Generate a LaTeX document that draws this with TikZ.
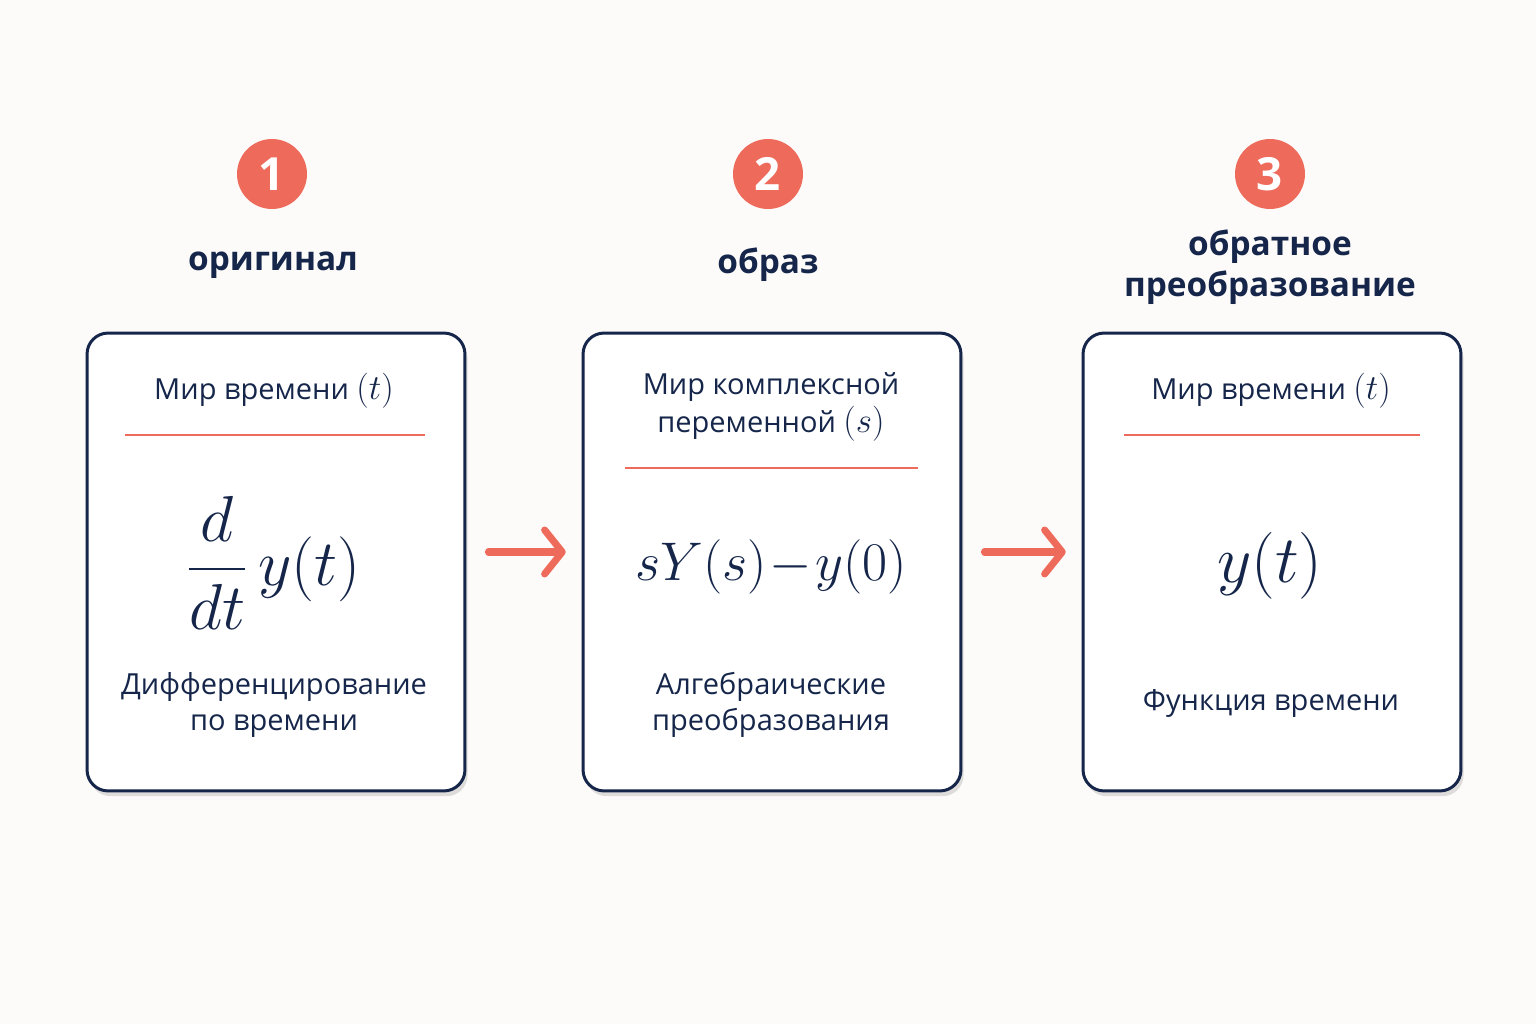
\documentclass[tikz,border=0pt]{standalone}
\usepackage{fix-cm}
\usepackage{amsmath}
\usepackage{fontspec}
\setmainfont{Open Sans}
\usetikzlibrary{arrows.meta,positioning,shadows}
\definecolor{navy}{HTML}{15264A}
\definecolor{coral}{HTML}{EE6A5A}
\definecolor{paper}{HTML}{FCFBF9}
\newcommand{\bigvar}[1]{{\fontsize{20}{22}\selectfont$(#1)$}}

\begin{document}
\begin{tikzpicture}[x=0.02cm,y=-0.02cm,
    world/.style={draw=navy,line width=1.7pt,rounded corners=12pt,fill=white,
        minimum width=7.56cm,minimum height=9.16cm,
        drop shadow={shadow xshift=1.5pt,shadow yshift=-3pt,opacity=.12,fill=black}},
    badge/.style={circle,fill=coral,text=white,minimum size=1.4cm,inner sep=0pt,
        font=\fontsize{26}{30}\selectfont\bfseries},
    stage/.style={text=navy,align=center,font=\fontsize{19}{23}\selectfont\bfseries},
    head/.style={text=navy,align=center,font=\fontsize{16.5}{22}\selectfont},
    note/.style={text=navy,align=center,font=\fontsize{16.5}{20.4}\selectfont},
    formula/.style={text=navy,font=\fontsize{31}{36}\selectfont},
    rule/.style={draw=coral,line width=0.8pt},
    flow/.style={draw=coral,line width=4pt,line cap=round,
        -{Straight Barb[length=10pt,width=25pt,round]},
        shorten <=12.5pt,shorten >=9pt}]
  % page
  \fill[paper] (0,0) rectangle (1536,1024);
  \useasboundingbox (0,0) rectangle (1536,1024);

  % boxes
  \node[world] (b1) at (276,562) {};
  \node[world] (b2) at (772,562) {};
  \node[world] (b3) at (1272,562) {};

  % numbers and stage names
  \node[badge] (n1) at (272,174) {1};
  \node[badge] (n2) at (768,174) {2};
  \node[badge] (n3) at (1270,174) {3};
  \node[stage] (s1) at (273,265) {оригинал};
  \node[stage] (s2) at (768,265) {образ};
  \node[stage] (s3) at (1270,267) {обратное\\преобразование};

  % box contents
  \node[head] (h1) at (274,391) {Мир времени \bigvar{t}};
  \node[head] (h2) at (771,407) {Мир комплексной\\переменной \bigvar{s}};
  \node[head] (h3) at (1271,391) {Мир времени \bigvar{t}};
  \draw[rule] (125,435) -- (425,435);
  \draw[rule] (625,468) -- (918,468);
  \draw[rule] (1124,435) -- (1420,435);

  \node[formula,font=\fontsize{37}{42}\selectfont] (f1) at (274,563) {$\displaystyle\frac{d}{dt}\,y(t)$};
  \node[formula] (f2) at (771,567) {$sY(s)\!-\!y(0)$};
  \node[formula,font=\fontsize{38}{42}\selectfont] (f3) at (1270,566) {$y(t)$};

  \node[note] (d1) at (274,705) {Дифференцирование\\по времени};
  \node[note] (d2) at (771,705) {Алгебраические\\преобразования};
  \node[note] (d3) at (1271,703) {Функция времени};

  % arrows
  \draw[flow] ([yshift=5.7pt]b1.east) -- ([yshift=5.7pt]b2.west);
  \draw[flow] ([yshift=5.7pt]b2.east) -- ([yshift=5.7pt]b3.west);
\end{tikzpicture}
\end{document}
